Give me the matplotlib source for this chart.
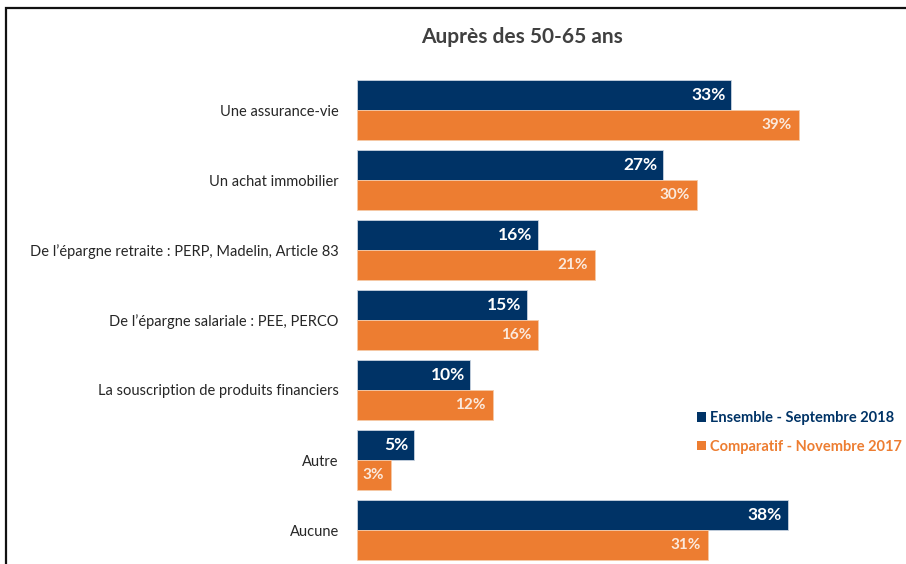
import matplotlib

matplotlib.use("Agg")
import matplotlib.pyplot as plt
from matplotlib.patches import Rectangle
import numpy as np

plt.rcParams["font.family"] = ["Lato", "DejaVu Sans"]

CATEGORIES = [
    "Une assurance-vie",
    "Un achat immobilier",
    "De l’épargne retraite : PERP, Madelin, Article 83",
    "De l’épargne salariale : PEE, PERCO",
    "La souscription de produits financiers",
    "Autre",
    "Aucune",
]
ENSEMBLE_2018 = [33, 27, 16, 15, 10, 5, 38]
COMPARATIF_2017 = [39, 30, 21, 16, 12, 3, 31]
SERIES_NAMES = ["Ensemble - Septembre 2018", "Comparatif - Novembre 2017"]

NAVY = "#003366"
ORANGE = "#ED7D31"

W, H = 906, 564
fig = plt.figure(figsize=(W / 100, H / 100), dpi=100)

# outer frame (cropped at right and bottom like the source)
fig.patches.append(Rectangle((6 / W, -0.1), 1.2, (H - 8) / H + 0.1,
                             transform=fig.transFigure, fill=False,
                             edgecolor="#111111", linewidth=1.6))

# axes placed in pixels: x=0 at 357px, 11.33 px per %, groups 70 px apart
px_per_pct = 11.33
ax = fig.add_axes([357 / W, 0, (W - 357) / W, (H - 9) / H])
ax.set_xlim(0, (W - 357) / px_per_pct)
top_i = (9 - 110) / 70
bot_i = (H - 110) / 70
ax.set_ylim(bot_i, top_i)

y = np.arange(len(CATEGORIES))
h = 30 / 70
b1 = ax.barh(y - h / 2, ENSEMBLE_2018, height=h, color=NAVY,
             edgecolor="#c9d3e0", linewidth=0.6, label=SERIES_NAMES[0])
b2 = ax.barh(y + h / 2, COMPARATIF_2017, height=h, color=ORANGE,
             edgecolor="#f6c9a6", linewidth=0.6, label=SERIES_NAMES[1])

for yi, v in zip(y, ENSEMBLE_2018):
    ax.annotate(f"{v}%", (v, yi - h / 2), xytext=(-4, 0), textcoords="offset points",
                ha="right", va="center", color="white", fontsize=12.5, fontweight="bold")
for yi, v in zip(y, COMPARATIF_2017):
    ax.annotate(f"{v}%", (v, yi + h / 2), xytext=(-5, 0), textcoords="offset points",
                ha="right", va="center", color="#fbe9dc", fontsize=11, fontweight="bold")

ax.set_yticks(y)
ax.set_yticklabels(CATEGORIES, fontsize=10.5, color="#262626")
ax.tick_params(axis="y", length=0, pad=13)
ax.set_xticks([])
for s in ax.spines.values():
    s.set_visible(False)
ax.patch.set_alpha(0)

fig.text(522 / W, 1 - 37 / H, "Auprès des 50-65 ans", ha="center", va="center",
         fontsize=15, fontweight="bold", color="#404040")

leg = fig.legend(handles=[b1, b2], labels=SERIES_NAMES, loc="upper left",
                 bbox_to_anchor=(684 / W, 1 - 398 / H), frameon=False,
                 handlelength=0.6, handleheight=0.6, handletextpad=0.3,
                 labelspacing=1.0, labelcolor=[NAVY, ORANGE],
                 prop={"size": 10.5, "weight": "bold"})
for hnd in leg.legend_handles:
    hnd.set_edgecolor("none")

fig.savefig("out.png", dpi=100)
